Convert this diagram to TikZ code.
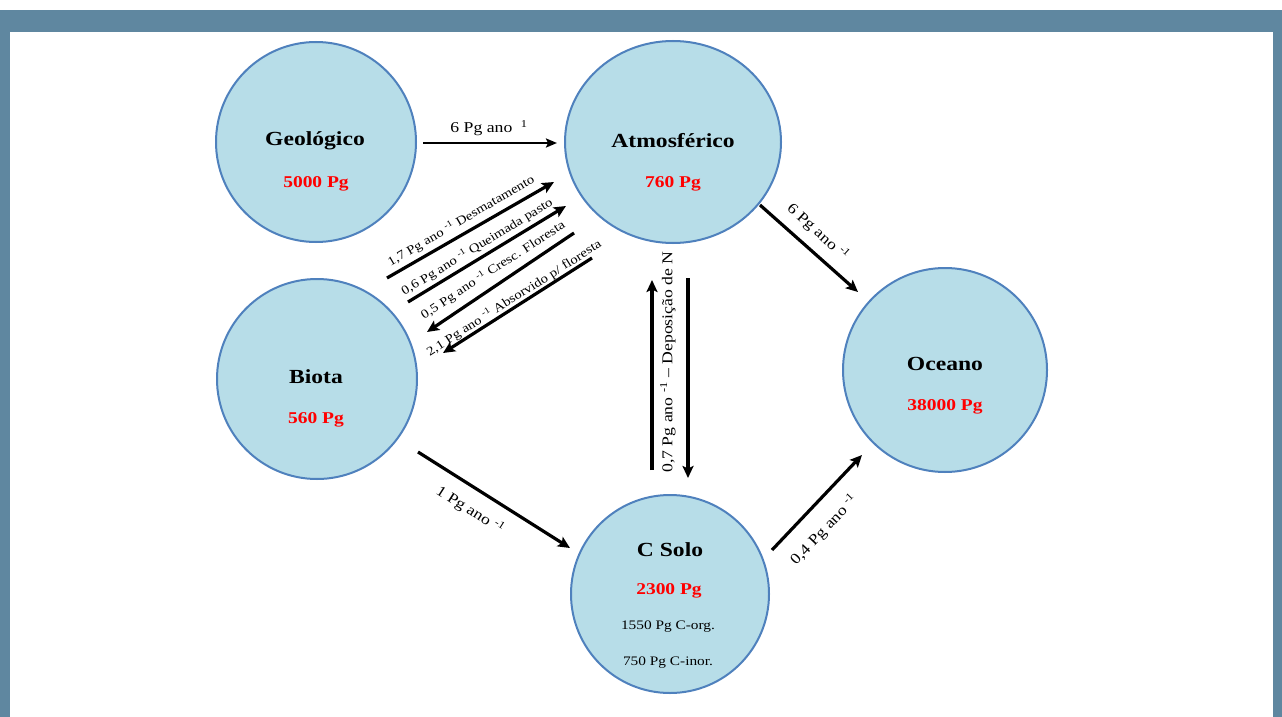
\documentclass[tikz,border=0pt]{standalone}
\usepackage{fontspec}
\setmainfont{Liberation Serif}[FakeStretch=1.18]
\usetikzlibrary{arrows.meta,shapes.geometric}
\definecolor{framec}{HTML}{5F87A0}
\definecolor{poolfill}{HTML}{B7DDE8}
\definecolor{pooledge}{HTML}{4F81BD}
\definecolor{amtred}{HTML}{FF0000}
\begin{document}
\begin{tikzpicture}[x=1pt,y=-1pt,
  poolshape/.style={circle, draw=pooledge, line width=2pt, fill=poolfill, minimum size=200pt, inner sep=0pt},
  ttl/.style={font=\fontsize{20}{24}\selectfont\bfseries, inner sep=0pt},
  amt/.style={font=\fontsize{16.5}{20}\selectfont\bfseries, text=amtred, inner sep=0pt},
  small/.style={font=\fontsize{13}{15}\selectfont, inner sep=0pt},
  flowlab/.style={font=\fontsize{15}{18}\selectfont, inner sep=0pt},
  diaglab/.style={font=\fontsize{12.5}{15}\selectfont, inner sep=0pt},
  flow/.style={line width=3.2pt, -{Stealth[length=12pt,width=11pt,inset=2.5pt]}},
  thinflow/.style={line width=2.3pt, -{Stealth[length=11pt,width=9pt,inset=2pt]}},
  ]
\useasboundingbox (0,0) rectangle (1282,717);
\fill[white] (0,0) rectangle (1282,717);
\fill[framec] (0,10) rectangle (1282,32);
\fill[framec] (0,10) rectangle (10,717);
\fill[framec] (1273,10) rectangle (1282,717);

% pools
\node[poolshape] (geo) at (316,142) {};
\node[poolshape, ellipse, minimum width=216pt, minimum height=202pt] (atm) at (673,142) {};
\node[poolshape] (bio) at (317,379) {};
\node[poolshape, minimum size=204pt] (oce) at (945,370) {};
\node[poolshape, minimum size=198pt] (solo) at (670,594) {};

% texts
\node[ttl] (geoT) at (315,141) {Geológico};
\node[amt] (geoV) at (316,184) {5000 Pg};
\node[ttl] (atmT) at (673,141) {Atmosférico};
\node[amt] (atmV) at (673,184) {760 Pg};
\node[ttl] (bioT) at (316,377) {Biota};
\node[amt] (bioV) at (316,420) {560 Pg};
\node[ttl] (oceT) at (945,364) {Oceano};
\node[amt] (oceV) at (945,407) {38000 Pg};
\node[ttl] (soloT) at (670,550) {C Solo};
\node[amt] (soloV) at (669,591) {2300 Pg};
\node[small] (soloA) at (668,627) {1550 Pg C-org.};
\node[small] (soloB) at (668,663) {750 Pg C-inor.};

% connector end points
\coordinate (ga1) at (423,143);  \coordinate (ga2) at (557,143);
\coordinate (ao1) at (760,205);  \coordinate (ao2) at (858,292);
\coordinate (bs1) at (418,452);  \coordinate (bs2) at (570,548);
\coordinate (so1) at (772,550);  \coordinate (so2) at (862,455);
\coordinate (up1) at (652,470);  \coordinate (up2) at (652,280);
\coordinate (dn1) at (688,278);  \coordinate (dn2) at (688,478);
\coordinate (d11) at (387,278);  \coordinate (d12) at (554,182);
\coordinate (d21) at (408,302);  \coordinate (d22) at (566,206);
\coordinate (d31) at (574,233);  \coordinate (d32) at (427,332);
\coordinate (d41) at (592,258);  \coordinate (d42) at (443,353);

% connectors
\draw[thinflow] (ga1) -- (ga2);
\draw[flow] (ao1) -- (ao2);
\draw[flow] (bs1) -- (bs2);
\draw[flow] (so1) -- (so2);
\draw[flow] (up1) -- (up2);
\draw[flow] (dn1) -- (dn2);
\draw[flow] (d11) -- (d12);
\draw[flow] (d21) -- (d22);
\draw[flow] (d31) -- (d32);
\draw[flow] (d41) -- (d42);

% labels
\node[flowlab] (l1) at (489,128) {6 Pg ano \textsuperscript{\phantom{-}1}};
\node[flowlab, rotate=-42] (l2) at (818,232) {6 Pg ano \textsuperscript{-1}};
\node[flowlab, rotate=-32.5] (l3) at (470,510) {1 Pg ano \textsuperscript{-1}};
\node[flowlab, rotate=46.6] (l4) at (824,530) {0,4 Pg ano \textsuperscript{-1}};
\node[flowlab, rotate=90] (l5) at (668,362) {0,7 Pg ano \textsuperscript{-1} -- Deposição de N};
\node[diaglab, rotate=30.3] (l6) at (461,221) {1,7 Pg ano \textsuperscript{-1} Desmatamento};
\node[diaglab, rotate=31.3] (l7) at (477,247) {0,6 Pg ano \textsuperscript{-1} Queimada pasto};
\node[diaglab, rotate=33] (l8) at (493,270) {0,5 Pg ano \textsuperscript{-1} Cresc. Floresta};
\node[diaglab, rotate=32.5] (l9) at (514,298) {2,1 Pg ano \textsuperscript{-1} Absorvido p/ floresta};
\end{tikzpicture}
\end{document}
